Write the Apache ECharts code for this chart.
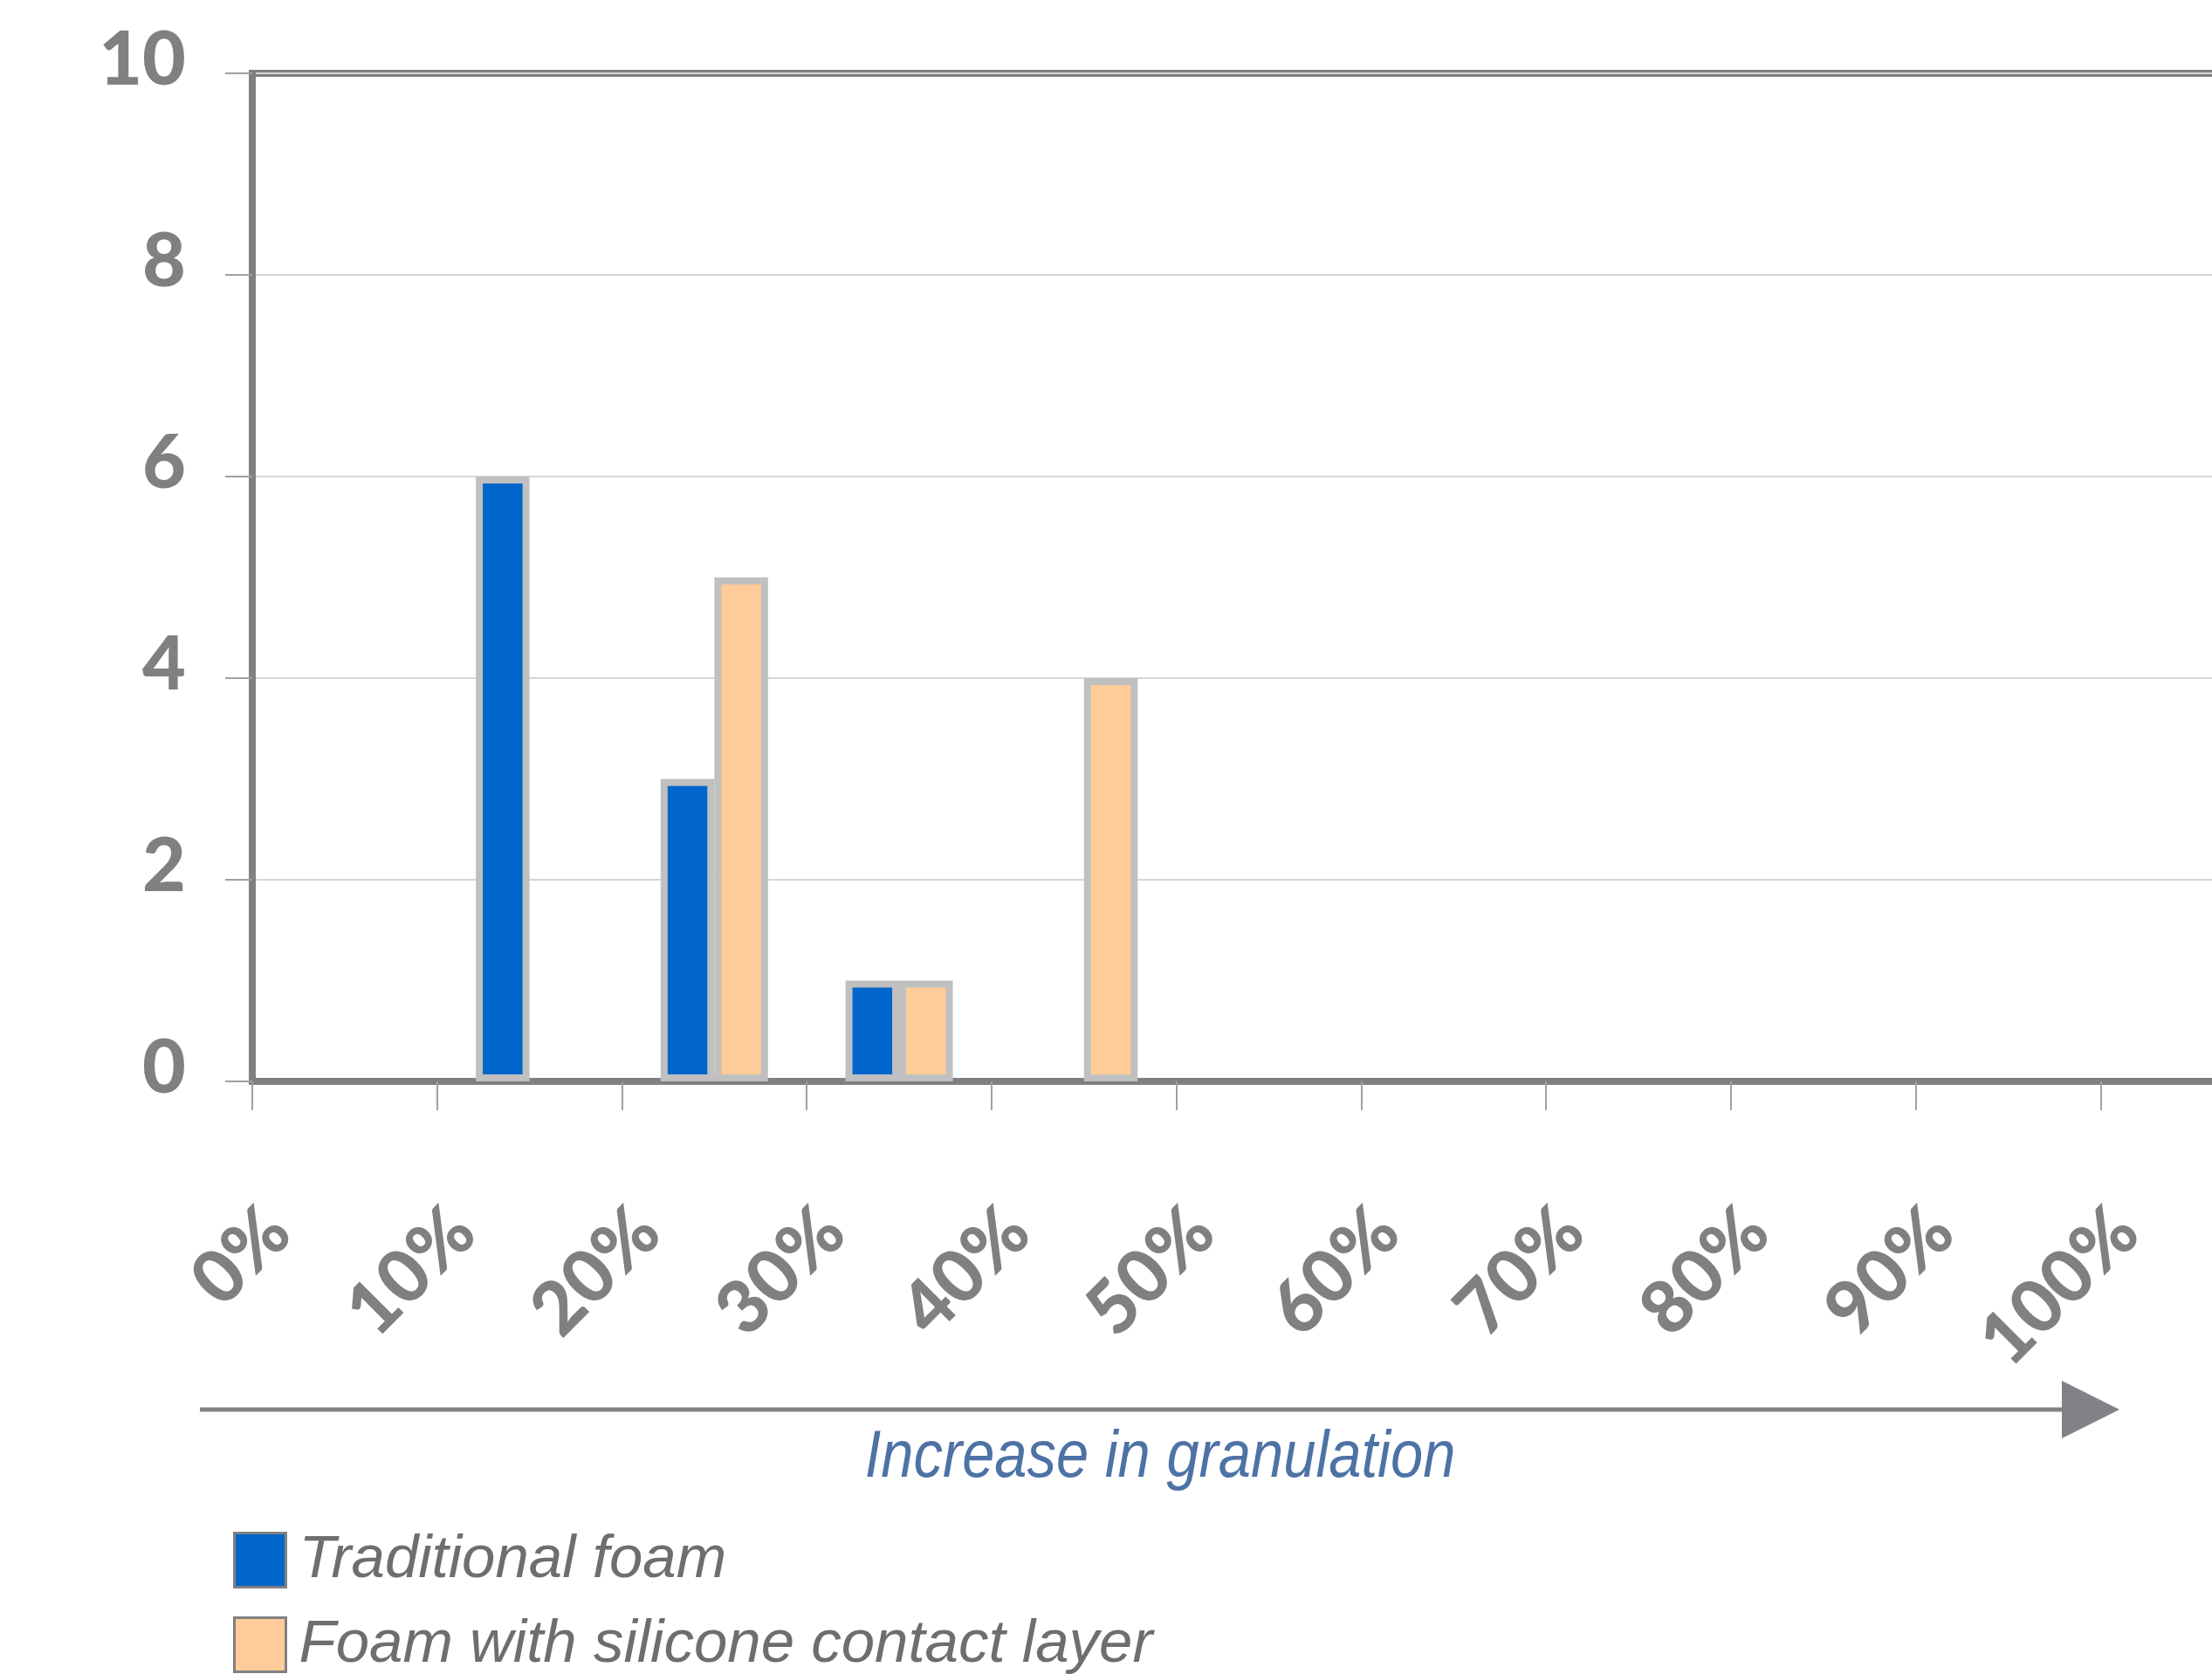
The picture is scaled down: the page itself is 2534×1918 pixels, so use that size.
<!DOCTYPE html>
<html>
<head>
<meta charset="utf-8">
<script src="https://cdn.jsdelivr.net/npm/echarts@6/dist/echarts.min.js"></script>
<style>
  html, body { margin: 0; padding: 0; background: #fff; }
  #chart { width: 2534px; height: 1918px; }
</style>
</head>
<body>
<div id="chart"></div>
<script>
// granulation bands (10% wide) – bars sit between the ticks
const bands = ['0-10%', '10-20%', '20-30%', '30-40%', '40-50%', '50-60%',
  '60-70%', '70-80%', '80-90%', '90-100%', '100-110%']
const traditionalFoam = [0, 6, 3, 1, 0, 0, 0, 0, 0, 0, 0]
const siliconeFoam = [0, 0, 5, 1, 4, 0, 0, 0, 0, 0, 0]
// labels on the ticks of the x axis
const tickLabels = ['0%', '10%', '20%', '30%', '40%', '50%', '60%', '70%', '80%', '90%', '100%']
const yTicks = [0, 2, 4, 6, 8, 10]

const seriesNames = ['Traditional foam', 'Foam with silicone contact layer']
const axisTitle = 'Increase in granulation'

const grey = '#808080'
const labelFont = 'Lato, "Noto Sans", sans-serif'
const italicFont = '"Liberation Sans", Arial, sans-serif'

// empty bands draw nothing
const toBar = arr => arr.map(v => (v === 0 ? null : v))

const myChart = echarts.init(document.getElementById('chart'))

const option = {
  backgroundColor: '#fff',
  animation: false,
  grid: {
    left: 289,
    top: 84,
    width: 2329,   // 11 bands, the last one runs off the page
    height: 1155,
    outerBoundsMode: 'none',
    show: true,
    borderColor: grey,
    borderWidth: 8,
    containLabel: false
  },
  legend: {
    orient: 'vertical',
    left: 267,
    top: 1753,
    height: 260,
    padding: 0,
    itemWidth: 59,
    itemHeight: 62,
    itemGap: 28,
    icon: 'rect',
    itemStyle: { borderColor: grey, borderWidth: 3 },
    textStyle: {
      fontFamily: italicFont,
      fontStyle: 'italic',
      fontSize: 69,
      color: '#6d6e71',
      lineHeight: 62,
      padding: [0, 0, 0, 10]
    },
    data: seriesNames
  },
  xAxis: [
    {
      // bars live on this one
      type: 'category',
      data: bands,
      boundaryGap: true,
      axisLine: { show: true, lineStyle: { color: grey, width: 8 } },
      axisTick: { show: false },
      axisLabel: { show: false },
      splitLine: { show: false }
    },
    {
      // ticks and % labels
      type: 'value',
      position: 'bottom',
      min: 0,
      max: 110,
      interval: 10,
      axisLine: { show: false },
      axisTick: { show: true, length: 33, lineStyle: { color: '#a0a0a0', width: 2 } },
      splitLine: { show: false },
      axisLabel: {
        rotate: 45,
        margin: 129,
        verticalAlign: 'top',
        lineHeight: 84,
        fontFamily: labelFont,
        fontWeight: 900,
        fontSize: 84,
        color: grey,
        formatter: v => tickLabels[Math.round(v / 10)] || ''
      }
    }
  ],
  yAxis: {
    type: 'value',
    min: yTicks[0],
    max: yTicks[yTicks.length - 1],
    interval: 2,
    axisLine: { show: true, lineStyle: { color: grey, width: 8 } },
    axisTick: { show: true, length: 31, lineStyle: { color: '#a0a0a0', width: 2 } },
    splitLine: { show: true, lineStyle: { color: '#d6d6d6', width: 2 } },
    axisLabel: {
      margin: 76,
      verticalAlign: 'bottom',
      lineHeight: 30,
      fontFamily: labelFont,
      fontWeight: 900,
      fontSize: 86,
      color: grey
    }
  },
  graphic: [
    {
      type: 'line',
      shape: { x1: 229, y1: 1615, x2: 2366, y2: 1615 },
      style: { stroke: '#818285', lineWidth: 5 }
    },
    {
      type: 'polygon',
      shape: { points: [[2362, 1582], [2428, 1615], [2362, 1648]] },
      style: { fill: '#818285' }
    },
    {
      type: 'text',
      x: 1329,
      y: 1671,
      scaleX: 0.88,
      style: {
        text: axisTitle,
        align: 'center',
        verticalAlign: 'middle',
        font: 'italic 76px ' + italicFont,
        fill: '#4d72a5'
      }
    }
  ],
  series: [
    {
      name: seriesNames[0],
      type: 'bar',
      xAxisIndex: 0,
      barWidth: 61.5,
      barGap: '0%',
      itemStyle: { color: '#0066cc', borderColor: '#c0c0c0', borderWidth: 8 },
      data: toBar(traditionalFoam)
    },
    {
      name: seriesNames[1],
      type: 'bar',
      xAxisIndex: 0,
      barWidth: 61.5,
      barGap: '0%',
      itemStyle: { color: '#ffcc99', borderColor: '#c0c0c0', borderWidth: 8 },
      data: toBar(siliconeFoam)
    }
  ]
}

myChart.setOption(option)
</script>
</body>
</html>
